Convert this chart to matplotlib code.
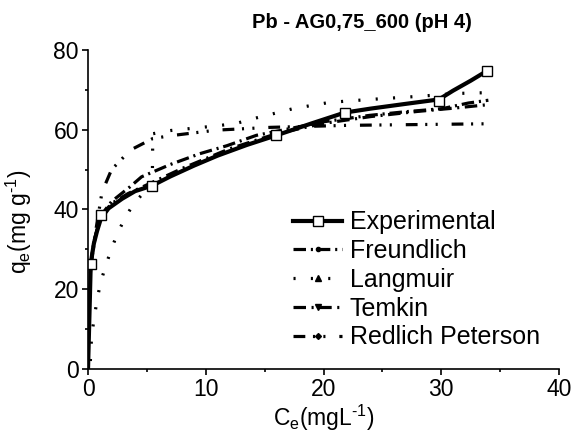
import matplotlib
matplotlib.use("Agg")
import matplotlib.pyplot as plt
from matplotlib.lines import Line2D
from matplotlib.ticker import MultipleLocator

plt.rcParams['font.family'] = ['Liberation Sans', 'DejaVu Sans']
plt.rcParams['mathtext.fontset'] = 'custom'
plt.rcParams['mathtext.rm'] = 'Liberation Sans'
plt.rcParams['mathtext.it'] = 'Liberation Sans:italic'
plt.rcParams['lines.scale_dashes'] = False

# ---- data ----
exp_ce = [0.23, 1.1, 5.46, 16.0, 21.8, 29.8, 33.9]
exp_qe = [26.3, 38.6, 46.0, 58.6, 64.3, 67.2, 74.8]

exp_curve_ce = [0, 0.08, 0.16, 0.23, 0.34, 0.5, 0.76, 1.1, 1.75, 2.9, 4.0, 5.46, 7.0, 9.0,
                11.0, 13.5, 16.0, 19.0, 21.8, 24.0, 27.0, 29.8, 31.0, 32.5, 33.9]
exp_curve_qe = [0, 9, 18, 26.3, 28.5, 31.5, 34.5, 37.8, 40.3, 42.7, 44.6, 46.0, 48.3, 51.0,
                53.5, 56.2, 58.6, 61.6, 64.3, 65.3, 66.5, 67.6, 69.8, 72.3, 74.8]

freundlich_ce = [0.23, 0.6, 1.1, 2.0, 3.57, 4.55, 7.0, 9.5, 11.8, 14.3, 16.0, 20.0, 23.9,
                 26.9, 30.1, 32.3, 34.0]
freundlich_qe = [26.0, 33.0, 38.5, 42.0, 45.7, 48.2, 51.3, 54.0, 56.0, 58.6, 59.6, 62.0, 63.6,
                 64.5, 65.3, 66.7, 67.4]

langmuir_ce = [0.2, 0.31, 0.54, 0.75, 1.05, 1.47, 1.95, 2.5, 3.2, 3.9, 4.6, 5.2, 5.46, 5.5,
               7.0, 9.0, 11.0, 12.6, 14.2, 15.7, 17.3, 18.8, 20.4, 22.0, 25.0, 28.2, 31.3, 33.9]
langmuir_qe = [2.0, 8.5, 13.0, 17.0, 21.5, 25.6, 29.8, 34.0, 38.2, 41.5, 43.8, 45.2, 46.5, 59.0,
               59.8, 60.4, 61.0, 61.6, 62.9, 64.0, 65.2, 66.0, 66.8, 67.2, 67.8, 68.4, 69.1, 69.3]

temkin_ce = [0.23, 0.5, 1.1, 2.0, 3.4, 5.46, 8.0, 12.0, 16.0, 20.0, 24.0, 28.0, 31.0, 34.0]
temkin_qe = [26.0, 32.0, 38.4, 41.5, 44.0, 46.8, 50.3, 55.2, 59.0, 61.6, 63.3, 64.6, 65.4, 66.3]

rp_ce = [0.2, 0.3, 0.62, 1.19, 2.0, 3.6, 5.5, 7.0, 10.9, 15.5, 22.0, 28.0, 34.0]
rp_qe = [24.0, 28.0, 34.0, 44.4, 50.0, 54.9, 57.8, 58.5, 59.9, 60.6, 61.1, 61.3, 61.5]

labels = ["Experimental", "Freundlich", "Langmuir", "Temkin", "Redlich Peterson"]

# ---- styles ----
ls_freundlich = (0, (9, 3.5, 1.5, 3.5))
ls_langmuir = (0, (1.5, 11))
ls_temkin = (0, (9, 4, 1.5, 4))
ls_rp = (0, (8.5, 5.5, 1.5, 6.0, 1.5, 10))

fig = plt.figure(figsize=(5.73, 4.37), dpi=100)
ax = fig.add_axes([0.1536, 0.1556, 0.822, 0.730])

lw = 2.3
ax.plot(rp_ce, rp_qe, color='black', lw=lw, ls=ls_rp)
ax.plot(temkin_ce, temkin_qe, color='black', lw=lw, ls=ls_temkin)
ax.plot(freundlich_ce, freundlich_qe, color='black', lw=lw, ls=ls_freundlich)
ax.plot(langmuir_ce, langmuir_qe, color='black', lw=lw, ls=ls_langmuir)
ax.plot(exp_curve_ce, exp_curve_qe, color='black', lw=3.0, solid_capstyle='butt')
ax.plot(exp_ce, exp_qe, ls='none', marker='s', ms=6.5, mfc='white', mec='black', mew=1.0)

ax.set_xlim(0, 40)
ax.set_ylim(0, 80)
ax.xaxis.set_major_locator(MultipleLocator(10))
ax.xaxis.set_minor_locator(MultipleLocator(5))
ax.yaxis.set_major_locator(MultipleLocator(20))
ax.yaxis.set_minor_locator(MultipleLocator(10))
for s in ['top', 'right']:
    ax.spines[s].set_visible(False)
for s in ['left', 'bottom']:
    ax.spines[s].set_linewidth(1.2)
ax.tick_params(axis='both', which='major', direction='out', length=4.5, width=1.2,
               labelsize=16.5, pad=2)
ax.tick_params(axis='both', which='minor', direction='out', length=2.5, width=1.2)

ax.set_xlabel(r'C$_\mathrm{e}$(mgL$^{\text{-1}}$)', fontsize=16.5, labelpad=1)
ax.set_ylabel(r'q$_\mathrm{e}$(mg g$^{\text{-1}}$)', fontsize=16.5, labelpad=4)
ax.yaxis.set_label_coords(-0.115, 0.46)

fig.text(0.632, 0.949, "Pb - AG0,75_600 (pH 4)", fontsize=14.5, fontweight='bold',
         ha='center', va='center')

handles = [
    Line2D([], [], color='black', lw=3.0, marker='s', ms=6.5, mfc='white', mec='black', mew=1.0),
    Line2D([], [], color='black', lw=lw, ls=ls_freundlich, marker='o', ms=3),
    Line2D([], [], color='black', lw=lw, ls=ls_langmuir, marker='^', ms=4),
    Line2D([], [], color='black', lw=lw, ls=ls_temkin, marker='v', ms=4),
    Line2D([], [], color='black', lw=lw, ls=ls_rp, marker='D', ms=3),
]
ax.legend(handles, labels, loc='upper left', bbox_to_anchor=(0.425, 0.513), frameon=False,
          fontsize=18, handlelength=1.95, handletextpad=0.32, labelspacing=0.19,
          borderpad=0.2, borderaxespad=0)

fig.savefig("out.png", dpi=100)
